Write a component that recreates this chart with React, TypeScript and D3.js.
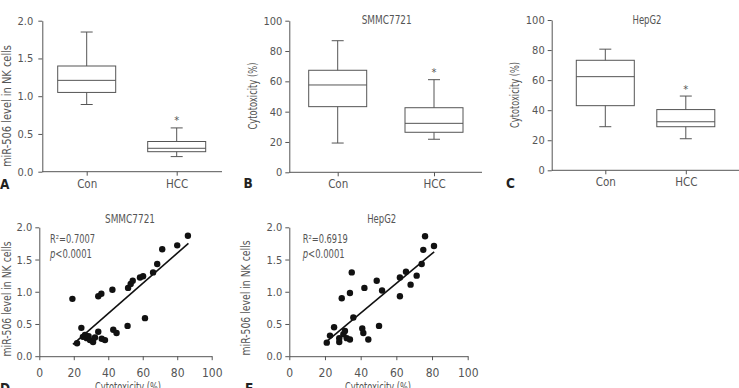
import React, { useEffect, useRef } from 'react';
import * as d3 from 'd3';

// box plot groups
const boxGroups = ['Con', 'HCC'];

// A: miR-506 level in NK cells
const mirBoxStats = [
  { min: 0.89, q1: 1.05, median: 1.21, q3: 1.40, max: 1.85 },
  { min: 0.20, q1: 0.265, median: 0.31, q3: 0.40, max: 0.58 },
];
// B: SMMC7721 cytotoxicity
const smmcBoxStats = [
  { min: 19.3, q1: 43.3, median: 57.6, q3: 67.3, max: 86.8 },
  { min: 21.8, q1: 26.4, median: 32.3, q3: 42.6, max: 61.1 },
];
// C: HepG2 cytotoxicity
const hepBoxStats = [
  { min: 29.0, q1: 43.0, median: 62.3, q3: 73.2, max: 80.6 },
  { min: 21.0, q1: 29.0, median: 32.3, q3: 40.4, max: 49.4 },
];
// asterisk heights above HCC box (A, B, C)
const starLevels = [0.70, 66.5, 54.5];

const mirTicks = [0, 0.5, 1.0, 1.5, 2.0];
const cytoTicks = [0, 20, 40, 60, 80, 100];

// D: SMMC7721 scatter
const smmcCyto = [19.2, 21.9, 24.4, 25.3, 26.5, 27.5, 28.6, 29.4, 31.2, 32.3, 34.2, 34.2, 36.0, 36.2, 38.1,
  42.4, 42.9, 44.8, 51.2, 51.5, 53.0, 54.2, 58.4, 60.2, 61.3, 66.0, 68.4, 71.3, 80.0, 86.2];
const smmcMir = [0.89, 0.20, 0.44, 0.30, 0.33, 0.28, 0.31, 0.25, 0.22, 0.29, 0.38, 0.93, 0.97, 0.27, 0.25,
  1.03, 0.41, 0.36, 0.47, 1.06, 1.12, 1.17, 1.22, 1.24, 0.59, 1.30, 1.43, 1.66, 1.72, 1.87];
const smmcFit = [[19.5, 0.185], [86.5, 1.75]];

// E: HepG2 scatter
const hepCyto = [21.0, 22.8, 25.1, 28.0, 28.0, 29.4, 30.3, 31.2, 32.2, 34.0, 34.0, 35.0, 35.9, 40.9, 41.5,
  42.1, 44.3, 49.0, 50.3, 52.0, 62.0, 62.0, 65.4, 68.0, 71.4, 74.2, 75.1, 76.1, 81.1];
const hepMir = [0.21, 0.32, 0.45, 0.22, 0.28, 0.90, 0.34, 0.39, 0.28, 0.26, 0.98, 1.30, 0.60, 0.43, 0.36,
  1.06, 0.26, 1.17, 0.47, 1.02, 0.93, 1.22, 1.31, 1.11, 1.25, 1.43, 1.65, 1.86, 1.71];
const hepFit = [[21.0, 0.23], [81.2, 1.62]];

const scatterXTicks = [0, 20, 40, 60, 80, 100];

const FONT = "'Liberation Sans Narrow', 'DejaVu Sans Condensed', 'Roboto', sans-serif";
const INK = '#555';

type Box = { min: number; q1: number; median: number; q3: number; max: number };

export default function App() {
  const svgRef = useRef<SVGSVGElement>(null);

  useEffect(() => {
    if (!svgRef.current) return;
    const svg = d3.select(svgRef.current);
    svg.selectAll('*').remove();

    const styleAxis = (g: any, size = 11) => {
      g.attr('font-family', FONT).attr('font-size', size);
      g.selectAll('path, line').attr('stroke', INK);
      g.selectAll('text').attr('fill', INK);
    };

    const text = (x: number, y: number, s: string, opts: any = {}) => {
      const t = svg.append('text')
        .attr('x', x).attr('y', y)
        .attr('font-family', FONT)
        .attr('font-size', opts.size || 11.5)
        .attr('fill', opts.fill || INK)
        .attr('text-anchor', opts.anchor || 'middle')
        .attr('font-weight', opts.weight || 'normal')
        .text(s);
      // squeeze to the narrow width of the original typeface
      if (opts.length) t.attr('textLength', opts.length).attr('lengthAdjust', 'spacingAndGlyphs');
      return t;
    };

    const yLabel = (x: number, y: number, s: string, size: number, len: number) => {
      svg.append('text')
        .attr('transform', `translate(${x},${y}) rotate(-90)`)
        .attr('font-family', FONT)
        .attr('font-size', size)
        .attr('fill', INK)
        .attr('text-anchor', 'middle')
        .attr('textLength', len)
        .attr('lengthAdjust', 'spacingAndGlyphs')
        .text(s);
    };

    // ---------- box plot panels ----------
    const boxPanel = (
      lay: { left: number; right: number; top: number; bottom: number; cats: [number, number] },
      stats: Box[], yMax: number, ticks: number[], fmt: (d: number) => string, star: number,
    ) => {
      const x = d3.scalePoint<string>().domain(boxGroups).range(lay.cats);
      const y = d3.scaleLinear().domain([0, yMax]).range([lay.bottom, lay.top]);

      const ya = svg.append('g')
        .attr('transform', `translate(${lay.left},0)`)
        .call(d3.axisLeft(y).tickValues(ticks).tickFormat(fmt as any).tickSize(4).tickSizeOuter(0).tickPadding(lay.left < 100 ? 5 : 3));
      styleAxis(ya);

      svg.append('line')
        .attr('x1', lay.left).attr('x2', lay.right)
        .attr('y1', lay.bottom).attr('y2', lay.bottom)
        .attr('stroke', INK);
      const xa = svg.append('g')
        .attr('transform', `translate(0,${lay.bottom})`)
        .call(d3.axisBottom(x).tickSize(4).tickPadding(4));
      xa.select('.domain').remove();
      styleAxis(xa, 11.5);

      const bw = 58;
      const cw = 12;
      stats.forEach((s, i) => {
        const cx = x(boxGroups[i])!;
        const g = svg.append('g').attr('stroke', INK).attr('stroke-width', 1).attr('fill', 'none');
        g.append('line').attr('x1', cx).attr('x2', cx).attr('y1', y(s.max)).attr('y2', y(s.q3));
        g.append('line').attr('x1', cx).attr('x2', cx).attr('y1', y(s.q1)).attr('y2', y(s.min));
        g.append('line').attr('x1', cx - cw / 2).attr('x2', cx + cw / 2).attr('y1', y(s.max)).attr('y2', y(s.max));
        g.append('line').attr('x1', cx - cw / 2).attr('x2', cx + cw / 2).attr('y1', y(s.min)).attr('y2', y(s.min));
        g.append('rect')
          .attr('x', cx - bw / 2).attr('width', bw)
          .attr('y', y(s.q3)).attr('height', y(s.q1) - y(s.q3));
        g.append('line').attr('x1', cx - bw / 2).attr('x2', cx + bw / 2).attr('y1', y(s.median)).attr('y2', y(s.median));
      });

      text(x('HCC')!, y(star) + 5, '*', { size: 11 });
    };

    boxPanel({ left: 42.3, right: 222, top: 20.7, bottom: 171.7, cats: [86.7, 176.7] },
      mirBoxStats, 2, mirTicks, d3.format('.1f'), starLevels[0]);
    boxPanel({ left: 289.3, right: 482, top: 20.7, bottom: 172.3, cats: [337.7, 434] },
      smmcBoxStats, 100, cytoTicks, d3.format('d'), starLevels[1]);
    boxPanel({ left: 551.7, right: 739, top: 20, bottom: 170.3, cats: [605.3, 685.8] },
      hepBoxStats, 100, cytoTicks, d3.format('d'), starLevels[2]);

    yLabel(10.5, 106, 'miR-506 level in NK cells', 12.5, 122);
    yLabel(257, 96, 'Cytotoxicity (%)', 12, 67);
    yLabel(519, 95, 'Cytotoxicity (%)', 12, 66);
    text(386.7, 24, 'SMMC7721', { length: 50 });
    text(647, 24, 'HepG2', { length: 29 });

    // ---------- scatter panels ----------
    const scatterPanel = (
      lay: { left: number; right: number; top: number; bottom: number },
      xs: number[], ys: number[], fit: number[][],
    ) => {
      const x = d3.scaleLinear().domain([0, 100]).range([lay.left, lay.right]);
      const y = d3.scaleLinear().domain([0, 2]).range([lay.bottom, lay.top]);

      const ya = svg.append('g')
        .attr('transform', `translate(${lay.left},0)`)
        .call(d3.axisLeft(y).tickValues(mirTicks).tickFormat(d3.format('.1f') as any).tickSize(4).tickSizeOuter(0).tickPadding(3));
      styleAxis(ya);
      const xa = svg.append('g')
        .attr('transform', `translate(0,${lay.bottom})`)
        .call(d3.axisBottom(x).tickValues(scatterXTicks).tickFormat(d3.format('d') as any).tickSize(4).tickSizeOuter(0).tickPadding(8));
      styleAxis(xa, 12);

      svg.append('g').selectAll('circle')
        .data(xs.map((v, i) => [v, ys[i]]))
        .enter().append('circle')
        .attr('cx', d => x(d[0]))
        .attr('cy', d => y(d[1]))
        .attr('r', 3.2)
        .attr('fill', '#111');

      svg.append('path')
        .datum(fit)
        .attr('fill', 'none')
        .attr('stroke', '#111')
        .attr('stroke-width', 1.6)
        .attr('d', d3.line<number[]>().x(d => x(d[0])).y(d => y(d[1])));
    };

    scatterPanel({ left: 39.3, right: 211.7, top: 227.3, bottom: 356.2 }, smmcCyto, smmcMir, smmcFit);
    scatterPanel({ left: 289.3, right: 467.7, top: 227.3, bottom: 356.2 }, hepCyto, hepMir, hepFit);

    text(130, 223, 'SMMC7721', { length: 50 });
    text(381.7, 223, 'HepG2', { length: 29 });

    const stat = (x0: number, r2: string) => {
      text(x0, 242.5, `R\u00b2=${r2}`, { anchor: 'start', length: 45 });
      const t = text(x0, 257.5, '', { anchor: 'start' });
      t.append('tspan').attr('font-style', 'italic').text('p');
      t.append('tspan').text('<0.0001');
      t.attr('textLength', 42).attr('lengthAdjust', 'spacingAndGlyphs');
    };
    stat(50, '0.7007');
    stat(302.7, '0.6919');

    yLabel(10.5, 299, 'miR-506 level in NK cells', 12.5, 115);
    yLabel(250, 298, 'miR-506 level in NK cells', 12.5, 115);
    text(128, 391, 'Cytotoxicity (%)', { size: 12, length: 66 });
    text(378, 391, 'Cytotoxicity (%)', { size: 12, length: 66 });

    // panel letters
    const letter = (x: number, y: number, s: string) =>
      text(x, y, s, { anchor: 'start', weight: 'bold', size: 13.5, fill: '#222' });
    letter(0, 189, 'A');
    letter(243.5, 188, 'B');
    letter(506, 188, 'C');
    letter(0, 393, 'D');
    letter(245, 393, 'E');
  }, []);

  return (
    <svg ref={svgRef} width={739} height={388} viewBox="0 0 739 388"
      style={{ position: 'absolute', left: 0, top: 0, background: '#fff' }} />
  );
}
